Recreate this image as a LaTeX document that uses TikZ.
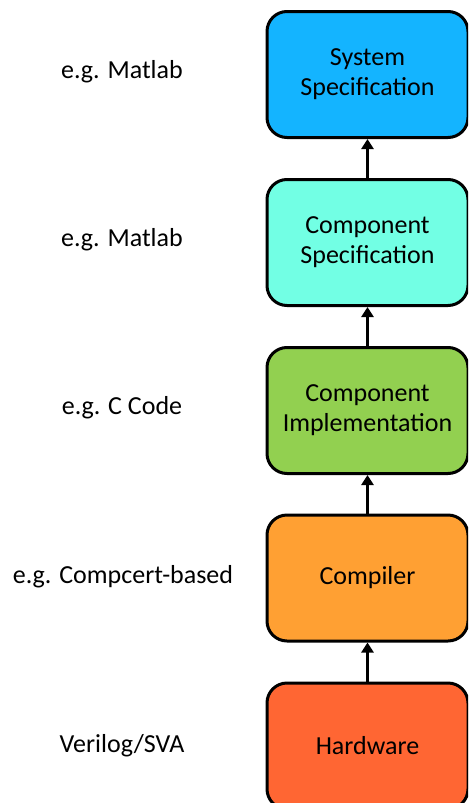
\documentclass[tikz,border=0pt]{standalone}
\usepackage{fontspec}
\setmainfont{Carlito}
\usetikzlibrary{arrows.meta,positioning}
\definecolor{sysblue}{HTML}{14B4FF}
\definecolor{compcyan}{HTML}{72FFE4}
\definecolor{implgreen}{HTML}{92D050}
\definecolor{compilorange}{HTML}{FFA033}
\definecolor{hwred}{HTML}{FF6633}
\begin{document}
\begin{tikzpicture}[x=0.5pt,y=-0.5pt,font=\fontsize{13}{15}\selectfont,
  level/.style={draw=black,line width=1.5pt,rounded corners=10pt,align=center,
    minimum width=100.5pt,minimum height=63pt,inner sep=0pt},
  up/.style={line width=1.6pt,-{Triangle[length=5pt,width=6pt]}}]
\clip (0,0) rectangle (468,803);
\useasboundingbox (0,0) rectangle (468,803);
\node[level,fill=sysblue] (sys) at (367.5,74.5) {System\\Specification};
\node[level,fill=compcyan] (cspec) at (367.5,242.5) {Component\\Specification};
\node[level,fill=implgreen] (cimpl) at (367.5,410.5) {Component\\Implementation};
\node[level,fill=compilorange] (comp) at (367.5,578) {Compiler};
\node[level,fill=hwred] (hw) at (367.5,746) {Hardware};
\draw[up] (cspec) -- (sys);
\draw[up] (cimpl) -- (cspec);
\draw[up] (comp) -- (cimpl);
\draw[up] (hw) -- (comp);
\node (lsys) at (122,72) {e.g. Matlab};
\node (lcspec) at (122,240) {e.g. Matlab};
\node (lcimpl) at (122,408) {e.g. C Code};
\node (lcomp) at (123,577) {e.g. Compcert-based};
\node (lhw) at (122,746) {Verilog/SVA};
\end{tikzpicture}
\end{document}
